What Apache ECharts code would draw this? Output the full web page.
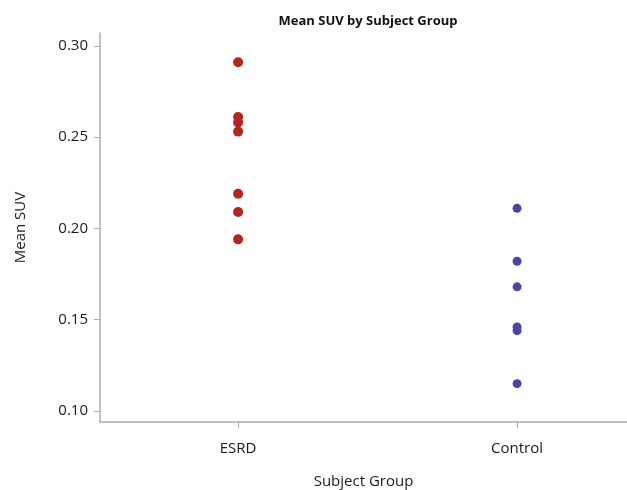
<!DOCTYPE html>
<html>
<head>
<meta charset="utf-8">
<script src="https://cdn.jsdelivr.net/npm/echarts@6/dist/echarts.min.js"></script>
<style>html,body{margin:0;padding:0;background:#fff}#c{width:627px;height:490px}</style>
</head>
<body>
<div id="c"></div>
<script>
var categories = ['ESRD', 'Control'];
var esrdValues = [0.291, 0.261, 0.258, 0.253, 0.219, 0.209, 0.194];
var controlValues = [0.211, 0.182, 0.168, 0.146, 0.144, 0.115];
var yTicks = [0.10, 0.15, 0.20, 0.25, 0.30];

var font = '"Open Sans", sans-serif';
var axisColor = '#b3aaa6';

function toPoints(idx, vals) {
  return vals.map(function (v) { return [idx + 1, v]; });
}

var chart = echarts.init(document.getElementById('c'));
chart.setOption({
  animation: false,
  title: {
    text: 'Mean SUV by Subject Group',
    left: 363, top: 10, textAlign: 'center',
    textStyle: { fontFamily: font, fontSize: 13, fontWeight: 'bold', color: '#111' }
  },
  grid: { left: 100, right: 0, top: 33, bottom: 68, containLabel: false, outerBoundsMode: 'none' },
  xAxis: {
    type: 'value', min: 0.505, max: 2.394,
    name: 'Subject Group', nameLocation: 'middle', nameGap: 52,
    nameTextStyle: { fontFamily: font, fontSize: 15, color: '#1a1a1a' },
    axisLine: { show: true, lineStyle: { color: axisColor, width: 1.5 } },
    axisTick: { show: true, customValues: [1, 2], length: 6, lineStyle: { color: axisColor } },
    axisLabel: {
      customValues: [1, 2], margin: 19,
      fontFamily: font, fontSize: 15, color: '#1a1a1a',
      formatter: function (v) { return categories[Math.round(v) - 1] || ''; }
    },
    splitLine: { show: false }
  },
  yAxis: {
    type: 'value', min: 0.094, max: 0.307,
    name: 'Mean SUV', nameLocation: 'middle', nameGap: 72, nameRotate: 90,
    nameTextStyle: { fontFamily: font, fontSize: 15, color: '#1a1a1a' },
    axisLine: { show: true, lineStyle: { color: axisColor, width: 1.5 } },
    axisTick: { show: true, customValues: yTicks, length: 6, lineStyle: { color: axisColor } },
    axisLabel: {
      customValues: yTicks, margin: 12,
      fontFamily: font, fontSize: 15, color: '#1a1a1a',
      formatter: function (v) { return v.toFixed(2); }
    },
    splitLine: { show: false }
  },
  series: [
    {
      name: categories[0], type: 'scatter', symbolSize: 10,
      itemStyle: { color: '#b3251e', opacity: 1 },
      data: toPoints(0, esrdValues)
    },
    {
      name: categories[1], type: 'scatter', symbolSize: 9,
      itemStyle: { color: '#4b46a6', opacity: 1 },
      data: toPoints(1, controlValues)
    }
  ]
});
</script>
</body>
</html>
